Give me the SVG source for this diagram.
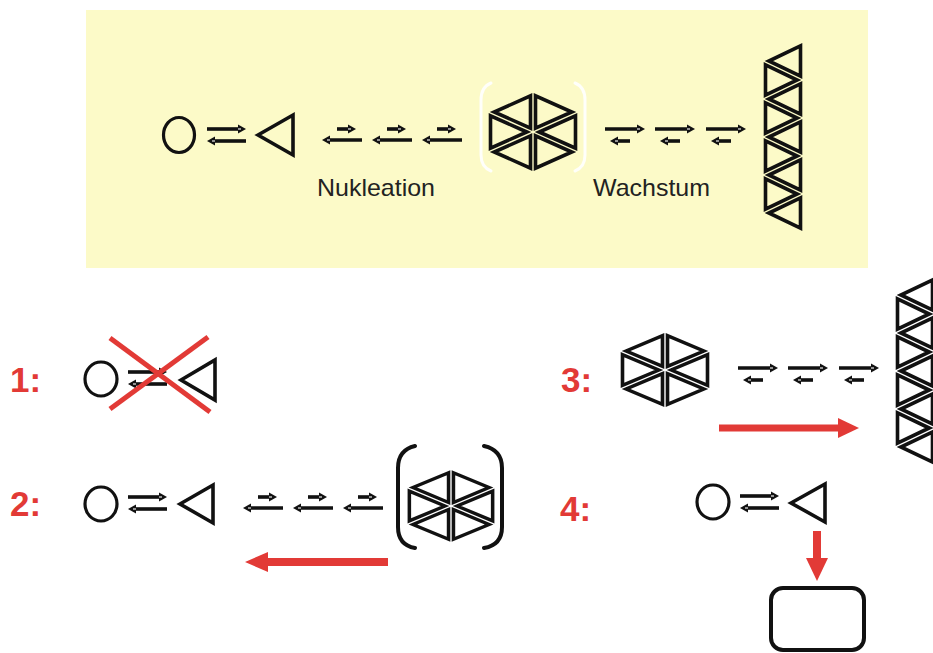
<svg xmlns="http://www.w3.org/2000/svg" width="933" height="653" viewBox="0 0 933 653">
<style>
.bg{fill:#ffffff}
.panel{fill:#fcfac8}
.ol{fill:none;stroke:#111;stroke-width:3.2;stroke-linejoin:miter}
.tri{fill:none;stroke:#111;stroke-width:3.6;stroke-linejoin:miter}
.sh{fill:none;stroke:#111;stroke-width:3.6}
.hd{fill:#111}
.nt{fill:none;stroke:#fff;stroke-width:1.1}
.rsh{fill:none;stroke:#e23a36;stroke-width:8}
.rhd{fill:#e23a36}
.rx{stroke:#e23a36;stroke-width:5;stroke-linecap:butt}
.lbl{font-family:"Liberation Sans",Arial,sans-serif;font-weight:bold;font-size:35px;fill:#e23a36}
.txt{font-family:"Liberation Sans",Arial,sans-serif;font-size:24px;fill:#222}
.brk{fill:none;stroke:#111;stroke-width:4;stroke-linecap:round}
.brkw{fill:none;stroke:#ffffff;stroke-width:3;stroke-linecap:round;opacity:0.9}
</style>
<defs>
<g id="hex" class="tri">
<polygon points="-2.5,-3.85 -2.5,-36.15 -38.85,-20"/>
<polygon points="-6.15,0 -42.5,-16.15 -42.5,16.15"/>
<polygon points="-2.5,3.85 -38.85,20 -2.5,36.15"/>
<polygon points="2.5,3.85 2.5,36.15 38.85,20"/>
<polygon points="6.15,0 42.5,16.15 42.5,-16.15"/>
<polygon points="2.5,-3.85 38.85,-20 2.5,-36.15"/>
</g>
<g id="stack" class="tri">
<polygon points="37.5,3.96 37.5,34.04 5.83,19"/>
<polygon points="37.5,41.96 37.5,72.04 5.83,57"/>
<polygon points="37.5,79.96 37.5,110.04 5.83,95"/>
<polygon points="37.5,117.96 37.5,148.04 5.83,133"/>
<polygon points="37.5,155.96 37.5,186.04 5.83,171"/>
<polygon points="2.5,22.96 2.5,53.04 34.17,38"/>
<polygon points="2.5,60.96 2.5,91.04 34.17,76"/>
<polygon points="2.5,98.96 2.5,129.04 34.17,114"/>
<polygon points="2.5,136.96 2.5,167.04 34.17,152"/>
</g>
<g id="eq">
<path class="sh" d="M0,0H32"/><path class="hd" d="M39,0l-8,-4.5v9z"/><path class="nt" d="M31,0h3"/>
<path class="sh" d="M7,12H39"/><path class="hd" d="M0,12l8,-4.5v9z"/><path class="nt" d="M8,12h-3"/>
</g>
<g id="nuc">
<path class="sh" d="M15,0H27"/><path class="hd" d="M34,0l-8,-4.5v9z"/><path class="nt" d="M26,0h3"/>
<path class="sh" d="M7,11H40"/><path class="hd" d="M0,11l8,-4.5v9z"/><path class="nt" d="M8,11h-3"/>
</g>
<g id="gro">
<path class="sh" d="M0,0H33"/><path class="hd" d="M40,0l-8,-4.5v9z"/><path class="nt" d="M32,0h3"/>
<path class="sh" d="M12,12H25"/><path class="hd" d="M5,12l8,-4.5v9z"/><path class="nt" d="M13,12h-3"/>
</g>
</defs>
<rect class="bg" x="0" y="0" width="933" height="653"/>
<g id="top-panel">
<rect class="panel" x="86" y="10" width="782" height="258"/>
</g>
<g id="top-monomer"><ellipse class="ol" cx="179" cy="135" rx="15.5" ry="17.5"/></g>
<g id="top-triangle"><path class="tri" d="M258,135 L293,115 L293,155 Z"/></g>
<g id="top-nucleus">
<path class="brkw" d="M491,83 Q481,87 481,100 V155 Q481,167 491,171"/>
<path class="brkw" d="M575,83 Q585,87 585,100 V155 Q585,167 575,171"/>
<use href="#hex" transform="translate(533,132)"/>
</g>
<g id="top-fibril"><use href="#stack" transform="translate(763,42)"/></g>
<g id="top-labels">
<text class="txt" x="317" y="196" textLength="118" lengthAdjust="spacingAndGlyphs">Nukleation</text>
<text class="txt" x="593" y="196" textLength="117" lengthAdjust="spacingAndGlyphs">Wachstum</text>
</g>
<g id="case1">
<text class="lbl" x="10" y="392">1:</text>
<ellipse class="ol" cx="101" cy="379" rx="16" ry="17"/>
<path class="tri" d="M181,380 L215,360 L215,400 Z"/>
</g>
<g id="case3">
<text class="lbl" x="561" y="392">3:</text>
<use href="#hex" transform="translate(665,370) scale(1,0.95)"/>
<use href="#stack" transform="translate(895,276)"/>
</g>
<g id="case2">
<text class="lbl" x="10" y="516">2:</text>
<ellipse class="ol" cx="101" cy="504" rx="16" ry="17"/>
<path class="tri" d="M180,504 L213,485 L213,523 Z"/>
<path class="brk" d="M415,446 Q398,450 398,468 V527 Q398,545 415,548"/>
<path class="brk" d="M484,446 Q502,450 502,468 V527 Q502,545 484,548"/>
<use href="#hex" transform="translate(451,506) scale(0.98,0.92)"/>
</g>
<g id="case4">
<text class="lbl" x="560" y="521">4:</text>
<ellipse class="ol" cx="713" cy="502" rx="16" ry="17"/>
<path class="tri" d="M791,503 L825,484 L825,522 Z"/>
<rect class="ol" x="771" y="588" width="93" height="62" rx="12" style="stroke-width:4"/>
</g>
<g id="connectors">
<use href="#eq" transform="translate(207,129)"/>
<use href="#nuc" transform="translate(322,129)"/>
<use href="#nuc" transform="translate(372,129)"/>
<use href="#nuc" transform="translate(422,129)"/>
<use href="#gro" transform="translate(605,129)"/>
<use href="#gro" transform="translate(655,129)"/>
<use href="#gro" transform="translate(706,129)"/>
<use href="#eq" transform="translate(128,372)"/>
<line class="rx" x1="110" y1="338" x2="210" y2="412"/>
<line class="rx" x1="208" y1="337" x2="110" y2="409"/>
<use href="#gro" transform="translate(738,368)"/>
<use href="#gro" transform="translate(788,368)"/>
<use href="#gro" transform="translate(839,368)"/>
<path class="rsh" d="M719,428 H841" style="stroke-width:7"/>
<path class="rhd" d="M859,428 L838,418 L838,438 Z"/>
<use href="#eq" transform="translate(128,497)"/>
<use href="#nuc" transform="translate(243,497)"/>
<use href="#nuc" transform="translate(293,497)"/>
<use href="#nuc" transform="translate(343,497)"/>
<path class="rsh" d="M388,562 H265"/>
<path class="rhd" d="M245,562 L268,552 L268,572 Z"/>
<use href="#eq" transform="translate(740,496)"/>
<path class="rsh" d="M817,531 V561"/>
<path class="rhd" d="M817,581 L806,558 L828,558 Z"/>
</g>
</svg>
